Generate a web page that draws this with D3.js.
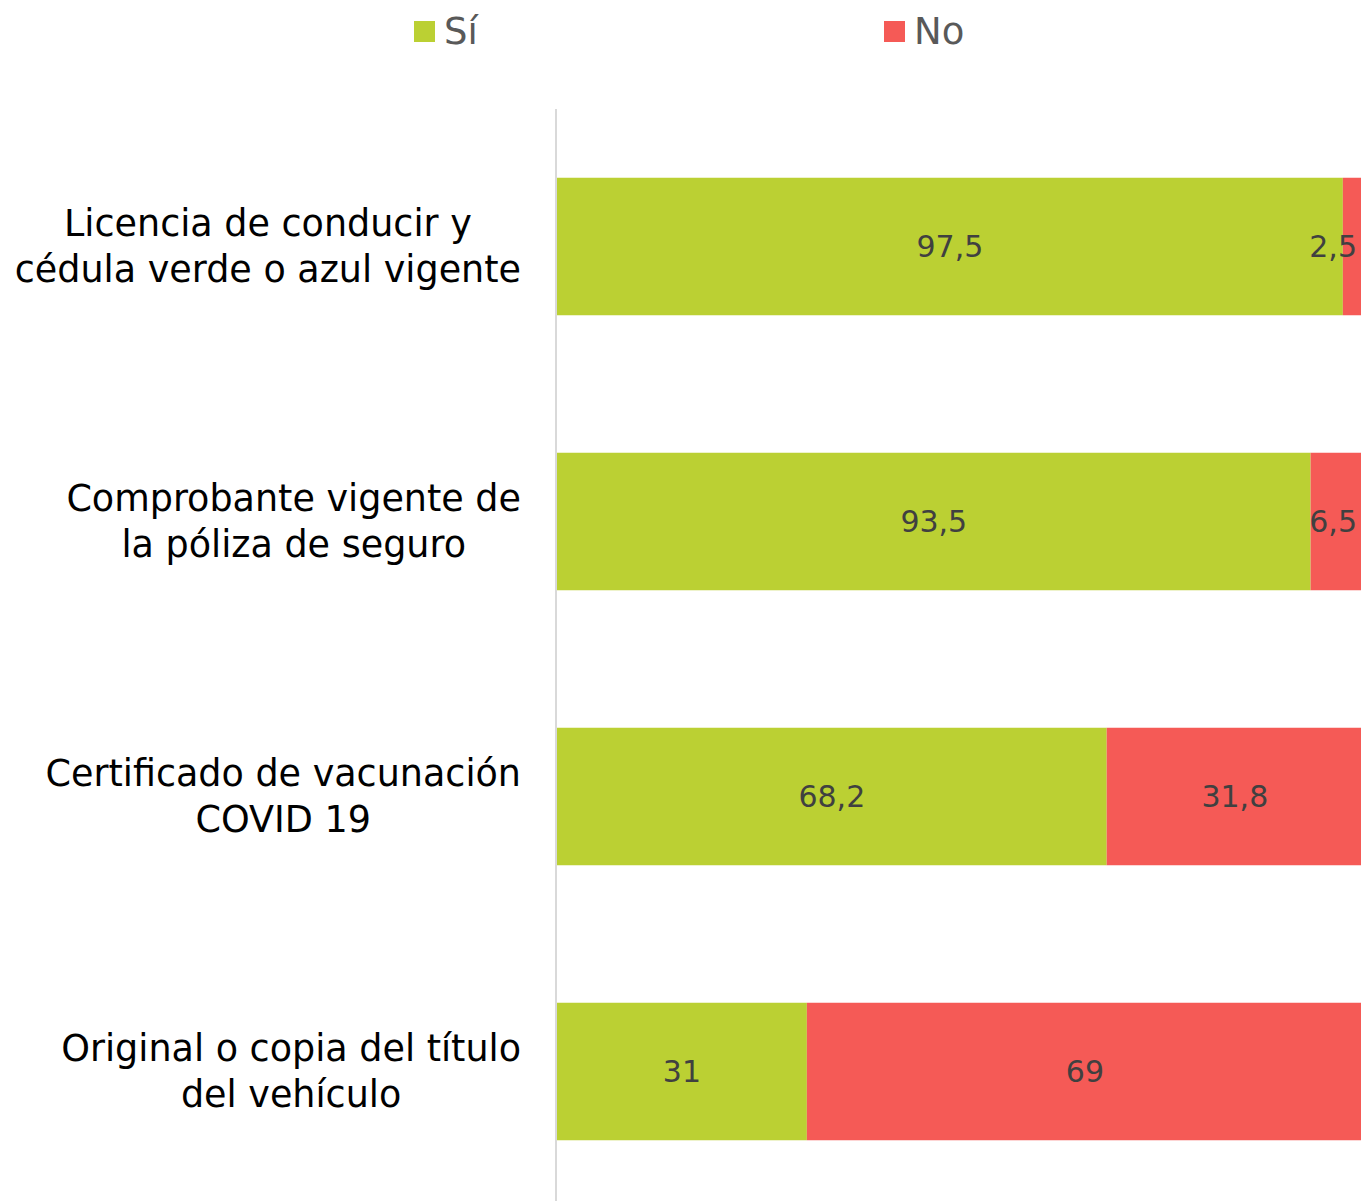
<!DOCTYPE html>
<html><head><meta charset="utf-8">
<script src="https://cdn.jsdelivr.net/npm/d3@7"></script>
<style>body{margin:0;background:#fff}svg{display:block}</style>
</head><body>
<script>
const categories = [
  ["Licencia de conducir y", "cédula verde o azul vigente"],
  ["Comprobante vigente de", "la póliza de seguro"],
  ["Certificado de vacunación", "COVID 19"],
  ["Original o copia del título", "del vehículo"]
];
const seriesNames = ["Sí", "No"];
const si = [97.5, 93.5, 68.2, 31];
const no = [2.5, 6.5, 31.8, 69];
const labelsSi = ["97,5", "93,5", "68,2", "31"];
const labelsNo = ["2,5", "6,5", "31,8", "69"];
const colors = ["#BBD033", "#F55A56"];

const W = 1361, H = 1201;
const FONT = "'DejaVu Sans', sans-serif";
const svg = d3.select("body").append("svg").attr("width", W).attr("height", H);

const x = d3.scaleLinear().domain([0, 100]).range([557, 1363]);
const y = d3.scaleBand().domain(d3.range(categories.length)).range([109, 1209]).paddingInner(0.5).paddingOuter(0.25);

svg.append("line").attr("x1", 556).attr("x2", 556).attr("y1", 109).attr("y2", H)
  .attr("stroke", "#D9D9D9").attr("stroke-width", 2);

const stackData = categories.map((c, i) => ({i, Si: si[i], No: no[i]}));
const stack = d3.stack().keys(["Si", "No"])(stackData);
const labelArrs = [labelsSi, labelsNo];

stack.forEach((layer, k) => {
  const g = svg.append("g");
  g.selectAll("rect").data(layer).join("rect")
    .attr("x", d => x(d[0])).attr("width", d => x(d[1]) - x(d[0]))
    .attr("y", (d, i) => y(i)).attr("height", y.bandwidth())
    .attr("fill", colors[k]);
  g.selectAll("text").data(layer).join("text")
    .attr("font-family", FONT).attr("font-size", 30).attr("fill", "#404040")
    .attr("dominant-baseline", "central")
    .attr("y", (d, i) => y(i) + y.bandwidth() / 2)
    .text((d, i) => labelArrs[k][i])
    .each(function(d) {
      const w = this.getComputedTextLength();
      let cx = (x(d[0]) + x(d[1])) / 2;
      if (cx + w / 2 > 1357) cx = 1357 - w / 2;
      d3.select(this).attr("x", cx - w / 2);
    });
});

// category labels
categories.forEach((lines, i) => {
  const g = svg.append("g");
  const cy = y(i) + y.bandwidth() / 2;
  const lh = 46;
  const ts = lines.map((l, j) => g.append("text")
    .attr("font-family", FONT).attr("font-size", 36.5).attr("fill", "#000")
    .attr("dominant-baseline", "central")
    .attr("y", cy + (j - (lines.length - 1) / 2) * lh).text(l));
  const widths = ts.map(t => t.node().getComputedTextLength());
  const mw = d3.max(widths);
  const center = 521 - mw / 2;
  ts.forEach((t, j) => t.attr("x", center - widths[j] / 2));
});

// legend
const legX = [414, 884];
seriesNames.forEach((n, k) => {
  svg.append("rect").attr("x", legX[k]).attr("y", 21).attr("width", 21).attr("height", 21).attr("fill", colors[k]);
  svg.append("text").attr("x", legX[k] + 30).attr("y", 31).attr("dominant-baseline", "central")
    .attr("font-family", FONT).attr("font-size", 37).attr("fill", "#595959").text(n);
});
</script>
</body></html>
